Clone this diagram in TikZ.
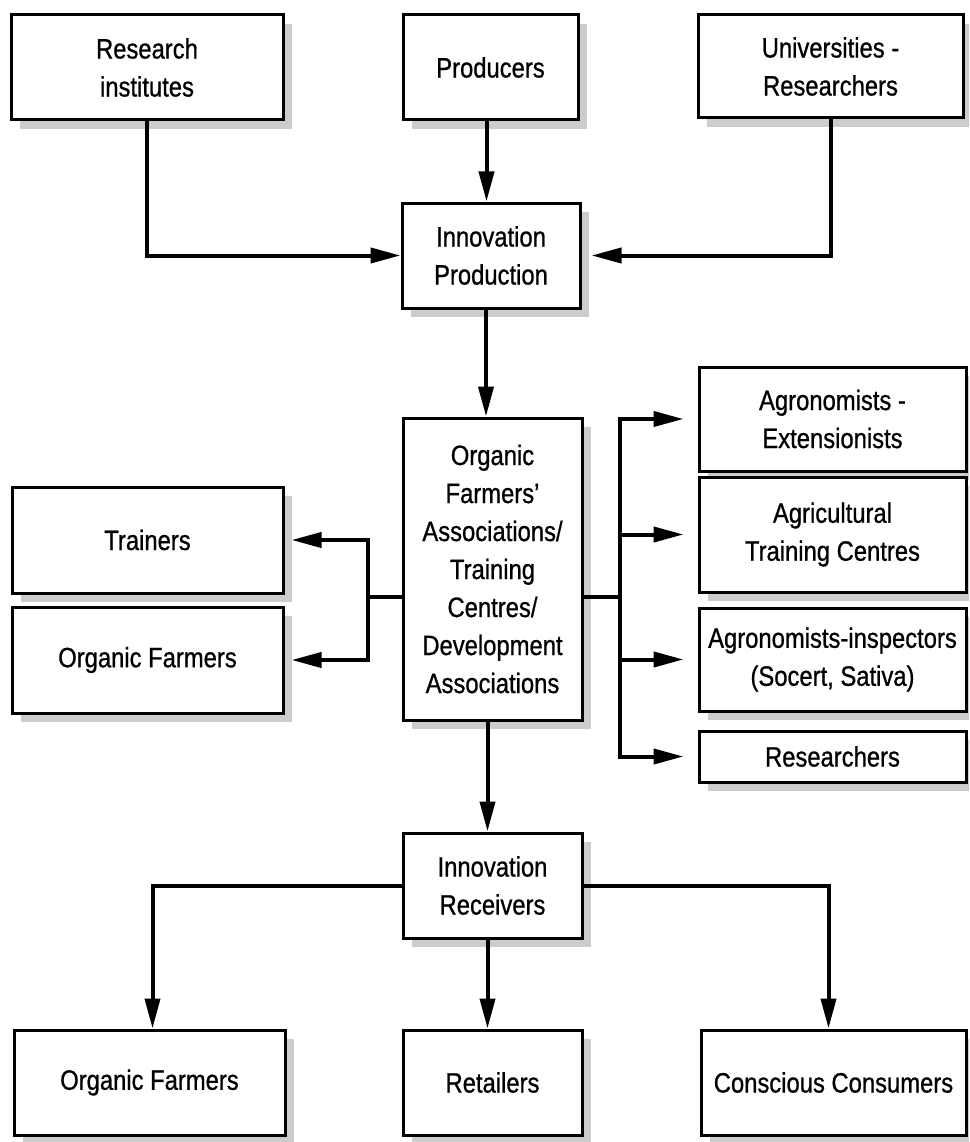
\documentclass[tikz,border=0pt]{standalone}
\usepackage{fontspec}
\setmainfont{Liberation Sans}[FakeStretch=0.85,FakeBold=0.8]
\usetikzlibrary{arrows.meta,shadows}
\newcommand\diagfont{\fontsize{28}{38}\selectfont}
\tikzset{
  box/.style={draw, line width=3pt, fill=white, inner sep=0pt, align=center,
    font=\diagfont,
    drop shadow={shadow xshift=9pt, shadow yshift=-9pt, fill=gray!40, opacity=1}},
  conn/.style={line width=4pt, line join=miter},
  arr/.style={conn, -{Triangle[length=30pt,width=15pt]}},
}
\begin{document}
\begin{tikzpicture}[x=1pt,y=-1pt]
\useasboundingbox (0,0) rectangle (969,1142);
\clip (0,0) rectangle (969,1142);
\fill[white] (0,0) rectangle (969,1142);

% sources of innovation
\node[box, minimum width=272pt, minimum height=105pt] (resinst) at (147,67.5) {Research\\institutes};
\node[box, minimum width=175pt, minimum height=105pt] (producers) at (490.5,67.5) {Producers};
\node[box, minimum width=265pt, minimum height=103pt] (univ) at (830.5,66.5) {Universities -\\Researchers};

\node[box, minimum width=178pt, minimum height=105pt] (innoprod) at (491,255.5) {Innovation\\Production};

% intermediaries
\node[box, minimum width=179pt, minimum height=302pt] (center) at (492.5,569)
  {Organic\\Farmers'\\Associations/\\Training\\Centres/\\Development\\Associations};

\node[box, minimum width=271pt, minimum height=106pt] (trainers) at (147.5,540) {Trainers};
\node[box, minimum width=271pt, minimum height=106pt] (orgfarmL) at (147.5,660) {Organic Farmers};

\node[box, minimum width=267pt, minimum height=104pt] (agroext) at (832.5,419) {Agronomists -\\Extensionists};
\node[box, minimum width=267pt, minimum height=115pt] (agrtrain) at (832.5,534.5) {Agricultural\\Training Centres};
\node[box, minimum width=267pt, minimum height=103pt] (agroinsp) at (832.5,659.5) {Agronomists-inspectors\\(Socert, Sativa)};
\node[box, minimum width=267pt, minimum height=51pt] (researchers) at (832.5,756.5) {Researchers};

% receivers
\node[box, minimum width=179pt, minimum height=105pt] (innorec) at (492.5,885.5) {Innovation\\Receivers};
\node[box, minimum width=271pt, minimum height=105pt] (orgfarmB) at (149.5,1082.5) {Organic Farmers};
\node[box, minimum width=179pt, minimum height=105pt] (retailers) at (492.5,1082.5) {Retailers};
\node[box, minimum width=265pt, minimum height=105pt] (conscious) at (833.5,1082.5) {Conscious Consumers};

% connectors: top
\draw[arr] (resinst.south) |- (innoprod.west);
\draw[arr] (univ.south) |- ([xshift=10pt]innoprod.east);
\draw[arr] ([xshift=-4pt]producers.south) -- ([xshift=-4pt]producers.south |- innoprod.north);
\draw[arr] ([xshift=-5pt]innoprod.south) -- ([xshift=-5pt]innoprod.south |- center.north);

% connectors: left and right branches
\coordinate (jl) at (368,597);
\coordinate (jr) at (620,597);
\draw[conn] (center.west |- jl) -- (jl);
\draw[arr] (jl) |- ([xshift=7pt]trainers.east);
\draw[arr] (jl) |- ([xshift=7pt]orgfarmL.east);
\draw[conn] (center.east |- jr) -- (jr);
\draw[arr] (jr) |- ([xshift=-14pt]agroext.west);
\draw[arr] (jr) |- ([xshift=-14pt]agrtrain.west);
\draw[arr] (jr) |- ([xshift=-14pt]agroinsp.west);
\draw[arr] (jr) |- ([xshift=-14pt]researchers.west);

% connectors: bottom
\draw[arr] ([xshift=-5pt]center.south) -- ([xshift=-5pt]center.south |- innorec.north);
\draw[arr] (innorec.west) -| ([xshift=3pt]orgfarmB.north);
\draw[arr] ([xshift=-5pt]innorec.south) -- ([xshift=-5pt]innorec.south |- retailers.north);
\draw[arr] (innorec.east) -| ([xshift=-5pt]conscious.north);
\end{tikzpicture}
\end{document}
